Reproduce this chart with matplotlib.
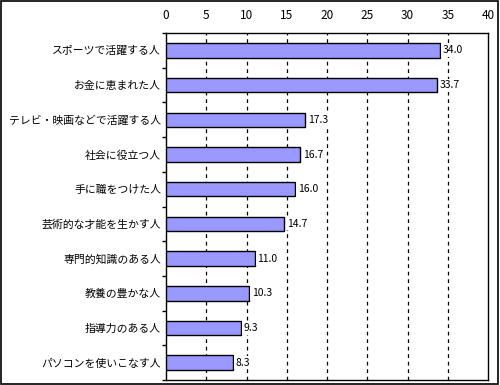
import matplotlib
matplotlib.use("Agg")
import matplotlib.pyplot as plt
from matplotlib.patches import Rectangle
import numpy as np

plt.rcParams['font.family'] = ['Noto Sans CJK JP', 'DejaVu Sans']

categories = ["スポーツで活躍する人", "お金に恵まれた人", "テレビ・映画などで活躍する人",
              "社会に役立つ人", "手に職をつけた人", "芸術的な才能を生かす人",
              "専門的知識のある人", "教養の豊かな人", "指導力のある人", "パソコンを使いこなす人"]
values = [34.0, 33.7, 17.3, 16.7, 16.0, 14.7, 11.0, 10.3, 9.3, 8.3]
xticks = [0, 5, 10, 15, 20, 25, 30, 35, 40]

fig = plt.figure(figsize=(5.0, 3.85), dpi=100)
ax = fig.add_axes([0.332, 0.013, 0.644, 0.901])

y = np.arange(len(categories))
ax.barh(y, values, height=0.42, color='#9999FF', edgecolor='black', linewidth=1.0, zorder=3)
for yi, v in zip(y, values):
    ax.text(v + 0.35, yi, f"{v:.1f}", va='center', ha='left', fontsize=7.5, zorder=5,
            bbox=dict(boxstyle='square,pad=0.15', facecolor='white', edgecolor='none'))

ax.set_xlim(0, 40)
ax.set_ylim(len(categories) - 0.5, -0.5)
ax.xaxis.tick_top()
ax.set_xticks(xticks)
ax.set_xticklabels([str(t) for t in xticks], fontsize=8.5)
ax.tick_params(axis='x', length=0, pad=8)
for t in xticks[1:-1]:
    ax.axvline(t, color='black', linestyle=(0, (3, 3)), linewidth=0.9, zorder=1)

ax.set_yticks(y)
ax.set_yticklabels(categories, fontsize=7.8)
ax.tick_params(axis='y', which='major', length=0, pad=3.5)
ax.set_yticks(np.arange(-0.5, len(categories) + 0.5, 1.0), minor=True)
ax.tick_params(axis='y', which='minor', length=3, width=1, direction='out')

for s in ax.spines.values():
    s.set_linewidth(1.0)

fig.patches.append(Rectangle((0.002, 0.003), 0.994, 0.994, transform=fig.transFigure,
                             fill=False, edgecolor='black', linewidth=1.2))

fig.savefig("out.png", dpi=100)
